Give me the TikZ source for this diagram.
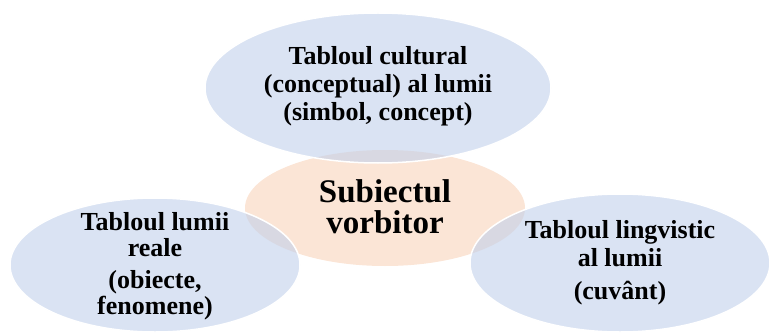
\documentclass[tikz,border=0pt]{standalone}
\usepackage{fontspec}
\setmainfont{Liberation Serif}[BoldFont={Liberation Serif Bold}]
\usetikzlibrary{shapes.geometric}

\definecolor{worldblue}{RGB}{193,208,235}
\definecolor{subjorange}{RGB}{251,229,214}

\begin{document}
\begin{tikzpicture}[x=1pt,y=-1pt,
        subject/.style={ellipse,fill=subjorange,inner sep=0pt},
        world/.style={ellipse,fill=worldblue,fill opacity=0.6,draw=white,line width=1.5pt,inner sep=0pt},
        worldtext/.style={align=center,font=\rmfamily\bfseries\fontsize{26}{28}\selectfont},
        subjtext/.style={align=center,font=\rmfamily\bfseries\fontsize{33}{31}\selectfont}]
            \useasboundingbox (0,0) rectangle (770,334);

            % centre
            \node[subject,minimum width=280pt,minimum height=116pt] (subj) at (385,208) {};
            \node[subjtext] (subj_txt) at ([yshift=1pt]subj) {Subiectul\\vorbitor};

            % the three pictures of the world
            \node[world,minimum width=346pt,minimum height=150pt] (cult) at (378,88) {};
            \node[world,minimum width=290pt,minimum height=134pt] (real) at (155,265) {};
            \node[world,minimum width=300pt,minimum height=138pt] (ling) at (620,263) {};

            \node[worldtext] (cult_txt) at ([yshift=2pt]cult) {Tabloul cultural\\(conceptual) al lumii\\(simbol, concept)};
            \node[worldtext,font=\rmfamily\bfseries\fontsize{26}{26}\selectfont] (real_txt) at ([yshift=-1pt]real) {Tabloul lumii\\reale\\[6pt](obiecte,\\fenomene)};
            \node[worldtext] (ling_txt) at (ling) {Tabloul lingvistic\\al lumii\\[5pt](cuvânt)};
        \end{tikzpicture}
\end{document}
